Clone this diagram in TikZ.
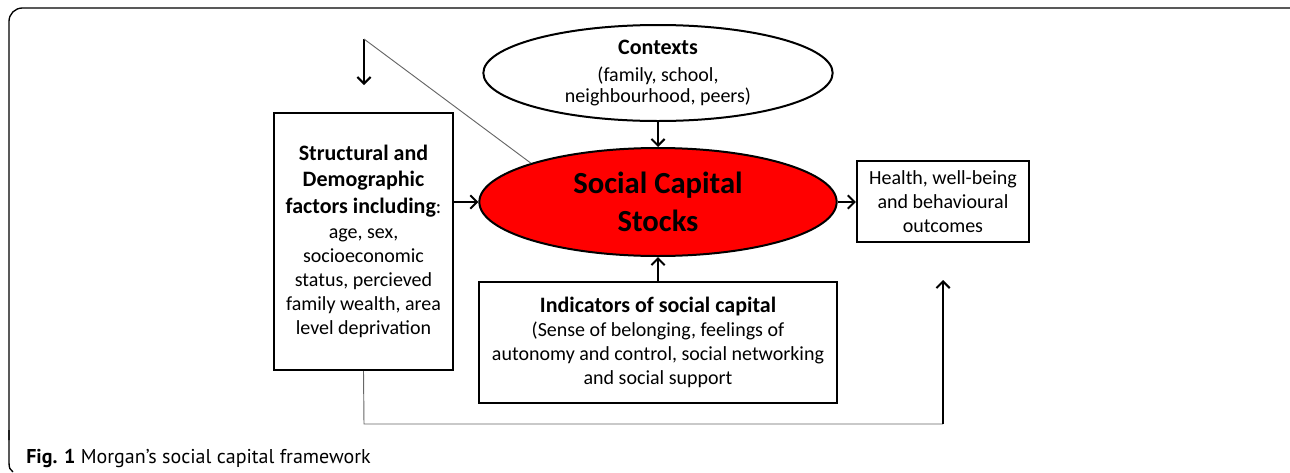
\documentclass[tikz,border=0pt]{standalone}
\usepackage{fontspec}
\setmainfont{Carlito}
\newfontfamily\capfont{PT Sans}
\usetikzlibrary{shapes.geometric,arrows.meta}

\newcommand\headline[1]{{\fontsize{16.5}{20}\selectfont\bfseries #1}}

\tikzset{
  framebox/.style={draw, line width=1.6pt, align=center, inner sep=2pt, font=\fontsize{15}{18}\selectfont},
  ovalnode/.style={draw, ellipse, line width=1.5pt, align=center, inner sep=0pt},
  flowarrow/.style={line width=1.5pt, -{Straight Barb[length=5pt,width=10pt,line width=1.5pt]}},
  thinline/.style={draw=black!60, line width=0.7pt},
}

\begin{document}
\begin{tikzpicture}[x=0.75pt,y=0.75pt,yscale=-1,xscale=1]
\useasboundingbox (0,0) rectangle (1290,472);

% panel frame
\draw[line width=1pt, rounded corners=10pt] (1290,8) -- (9,8) -- (9,440);
\draw[line width=1pt] (9,430) -- (9,462) .. controls (9,468) and (10,470) .. (13,472);

% nodes
\node[ovalnode, minimum width=262pt, minimum height=72pt, font=\fontsize{15}{16}\selectfont] (contexts) at (658,73)
  {\headline{Contexts}\\[4pt](family, school,\\neighbourhood, peers)};
\node[ovalnode, fill=red, minimum width=268pt, minimum height=81pt, font=\fontsize{23}{28}\selectfont\bfseries] (stocks) at (658,202)
  {Social Capital\\Stocks};
\node[framebox, minimum width=134pt, minimum height=193pt] (factors) at (363.5,241.5)
  {\headline{Structural and}\\[2pt]\headline{Demographic}\\[2pt]\headline{factors including}:\\[1pt]age, sex,\\socioeconomic\\status, percieved\\family wealth, area\\level deprivation};
\node[framebox, minimum width=129pt, minimum height=61pt] (outcomes) at (943,201.5)
  {Health, well-being\\and behavioural\\outcomes};
\node[framebox, minimum width=268pt, minimum height=91pt] (indicators) at (658,342.5)
  {\headline{Indicators of social capital}\\(Sense of belonging, feelings of\\autonomy and control, social networking\\and social support};

% free ends
\coordinate (topcorner) at (364,39);
\coordinate (downtip) at (364,85);
\coordinate (bendleft) at (364,424);
\coordinate (bendright) at (943,424);
\coordinate (uptip) at (943,280);

% connectors
\draw[flowarrow] (contexts) -- (stocks);
\draw[flowarrow] (indicators) -- (stocks);
\draw[flowarrow] (factors.east |- stocks) -- (stocks.west);
\draw[flowarrow] (stocks.east) -- (outcomes.west |- stocks.east);
\draw[flowarrow] (topcorner) -- (downtip);
\draw[thinline] (topcorner) -- (stocks.163);
\draw[thinline] (factors.south) -- (bendleft) -- (bendright);
\draw[flowarrow] (bendright) -- (uptip);

% caption
\node[anchor=base west, inner sep=0pt, font=\capfont\fontsize{15}{18}\selectfont] (caption) at (26,463)
  {\textbf{Fig. 1} Morgan’s social capital framework};
\end{tikzpicture}
\end{document}
